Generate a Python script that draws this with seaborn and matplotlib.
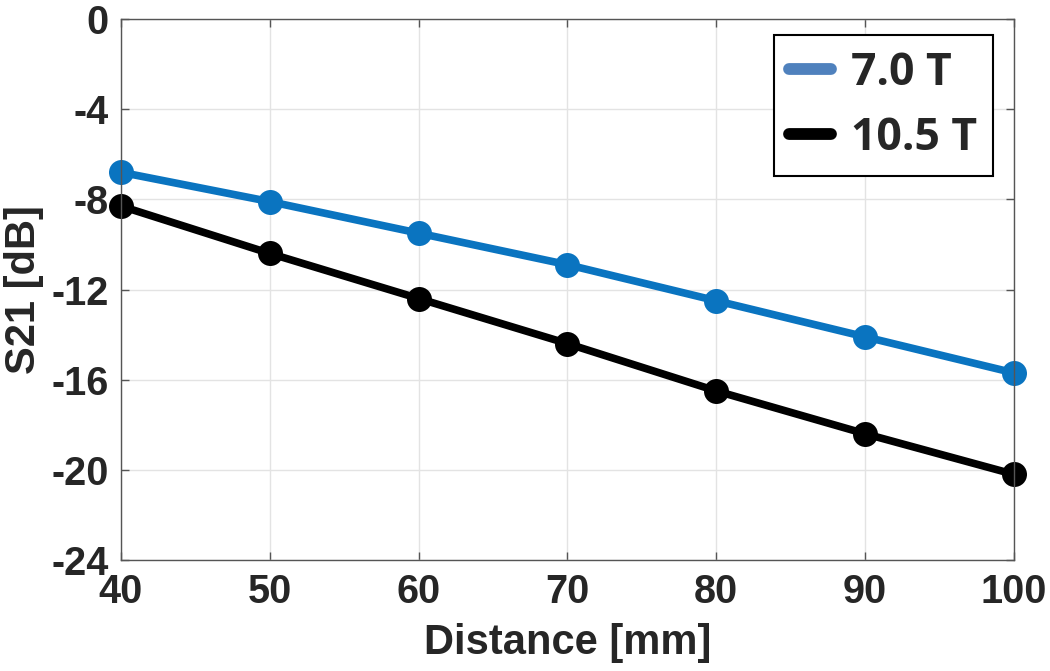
import matplotlib
matplotlib.use("Agg")
import matplotlib.pyplot as plt
import seaborn as sns
import pandas as pd
from matplotlib.lines import Line2D

distance = [40, 50, 60, 70, 80, 90, 100]
s21_7T = [-6.8, -8.1, -9.5, -10.9, -12.5, -14.1, -15.7]
s21_105T = [-8.3, -10.4, -12.4, -14.4, -16.5, -18.4, -20.2]
series_names = ["7.0 T", "10.5 T"]
yticks = [0, -4, -8, -12, -16, -20, -24]
xticks = [40, 50, 60, 70, 80, 90, 100]

df = pd.DataFrame({
    "Distance": distance * 2,
    "S21": s21_7T + s21_105T,
    "Field": [series_names[0]] * len(distance) + [series_names[1]] * len(distance),
})

sns.set_theme(style="whitegrid")
plt.rcParams["font.family"] = ["Liberation Sans", "DejaVu Sans"]
plt.rcParams["font.weight"] = "bold"

fig = plt.figure(figsize=(10.5, 6.71), dpi=100)
ax = fig.add_axes([0.1152, 0.1654, 0.8505, 0.8063])

palette = {series_names[0]: "#0a74c0", series_names[1]: "#000000"}
sns.lineplot(data=df, x="Distance", y="S21", hue="Field", palette=palette,
             marker="o", markersize=18, linewidth=5.5, markeredgewidth=0,
             ax=ax, legend=False, clip_on=False)

tc = "#262626"
ax.set_xlim(40, 100)
ax.set_ylim(-24, 0)
ax.set_xticks(xticks)
ax.set_yticks(yticks)
ax.set_xticklabels([str(v) for v in xticks], fontsize=28.5, fontweight="bold", color=tc)
ax.set_yticklabels([str(v) for v in yticks], fontsize=28.5, fontweight="bold", color=tc)
ax.set_xlabel("Distance [mm]", fontsize=30, fontweight="bold", color=tc, labelpad=9)
ax.set_ylabel("S21 [dB]", fontsize=30, fontweight="bold", color=tc, labelpad=5)

ax.grid(True, color="#e3e3e3", linewidth=1)
for s in ax.spines.values():
    s.set_color("#555555")
    s.set_linewidth(1)
    s.set_visible(True)
ax.tick_params(direction="in", length=6, width=1, color="#555555", pad=9,
               top=True, right=True, bottom=True, left=True)
ax.set_facecolor("white")

handles = [Line2D([0], [0], color="#4f81bd", linewidth=8.5),
           Line2D([0], [0], color="#000000", linewidth=8.5)]
leg = ax.legend(handles, series_names, loc="upper right", bbox_to_anchor=(0.9765, 0.970),
                frameon=True, fancybox=False, handlelength=0.95,
                handletextpad=0.45, borderpad=0.35, labelspacing=0.45,
                borderaxespad=0.0,
                prop={"family": ["Open Sans", "DejaVu Sans"], "weight": "bold", "size": 32})
leg.get_frame().set_edgecolor("#000000")
leg.get_frame().set_linewidth(1.5)
leg.get_frame().set_alpha(1)

fig.savefig("out.png", dpi=100, facecolor="white")
